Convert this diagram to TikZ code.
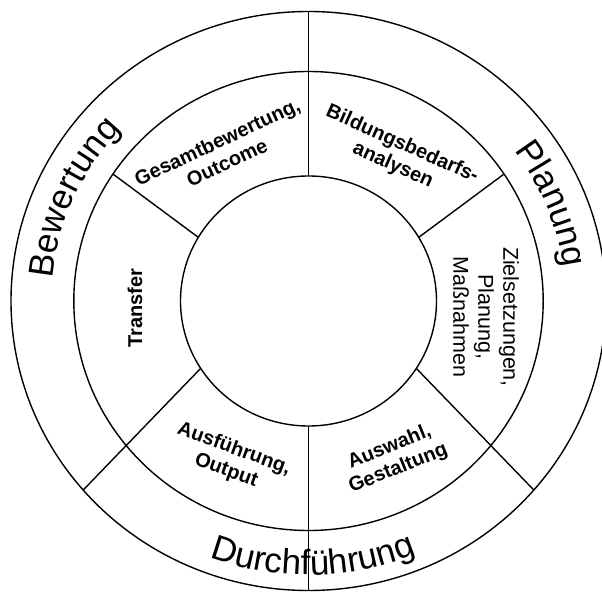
\documentclass[tikz,border=0pt]{standalone}
\usepackage{fontspec}
\setmainfont{Liberation Sans}
\usetikzlibrary{shapes.geometric,decorations.text}

\begin{document}
\begin{tikzpicture}[x=1pt,y=1pt,line width=1.4pt,
        ring/.style={ellipse,draw,inner sep=0pt,outer sep=0pt},
        phase/.style={font=\bfseries\fontsize{20}{23}\selectfont,align=center,inner sep=0pt},
        band/.style={decorate,decoration={text along path,text align=center,
            text={|\fontsize{35}{35}\selectfont|#1}}}]
        \useasboundingbox (0,0) rectangle (602,592);
        \coordinate (c) at (308.5,291);
        \node[ring,minimum width=595,minimum height=579] (outer) at (c) {};
        \node[ring,minimum width=469.4,minimum height=459] (mid) at (c) {};
        \node[ring,minimum width=256,minimum height=250] (inner) at (c) {};

        \draw (outer.90) -- (inner.90);
        \draw (inner.270) -- (outer.270);
        \draw (inner.150) -- (mid.147);
        \draw (inner.30) -- (mid.33);
        \draw (inner.212) -- (outer.220);
        \draw (inner.328) -- (outer.320);

        \path[band=Bewertung,shift={(c)}] (196:257 and 251) arc[start angle=196,end angle=116,x radius=257,y radius=251];
        \path[band=Planung,shift={(c)}] (62:257 and 251) arc[start angle=62,end angle=-18,x radius=257,y radius=251];
        \path[band=Durchführung,shift={(c)}] (231:280 and 274) arc[start angle=231,end angle=311,x radius=280,y radius=274];

        \node[phase,rotate=25] (gesamt) at (222,440) {Gesamtbewertung,\\Outcome};
        \node[phase,rotate=-24] (bedarf) at (397.5,437) {Bildungsbedarfs-\\analysen};
        \node[phase,rotate=90] (transfer) at (135,284) {Transfer};
        \node[phase,rotate=-90,font=\fontsize{21.5}{25}\selectfont] (ziel) at (486,275) {Zielsetzungen,\\Planung,\\Maßnahmen};
        \node[phase,rotate=-20] (ausf) at (230,132) {Ausführung,\\Output};
        \node[phase,rotate=22] (auswahl) at (394,134) {Auswahl,\\Gestaltung};
\end{tikzpicture}
\end{document}
